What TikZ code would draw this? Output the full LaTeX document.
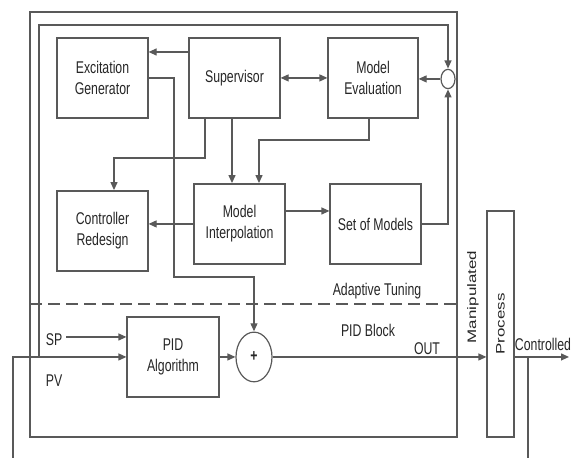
\documentclass[tikz,border=0pt]{standalone}
\usepackage{fontspec}
\setmainfont{Liberation Sans}
\usetikzlibrary{arrows.meta,positioning}

\begin{document}
\begin{tikzpicture}[
    x=1pt, y=0.7246pt, yscale=1.38,
    color=black!65, line width=1.2pt,
    every node/.style={transform shape, text=black!85, font=\fontsize{12.3}{15.2}\selectfont},
    box/.style={rectangle, draw, minimum width=91pt, minimum height=58pt, align=center},
    junction/.style={circle, draw, inner sep=0pt},
    arrow/.style={-{Triangle[length=8pt,width=7pt]}},
    dblarrow/.style={{Triangle[length=8pt,width=7pt]}-{Triangle[length=8pt,width=7pt]}}
]
    \useasboundingbox (0,0) rectangle (572,458);

    % Adaptive tuning side
    \node[box] (exc) at (102.5,380) {Excitation\\Generator};
    \node[box] (sup) at (234.5,380) {Supervisor};
    \node[box, minimum width=90pt] (eval) at (373,380) {Model\\Evaluation};
    \node[box] (ctrl) at (102.5,227) {Controller\\Redesign};
    \node[box] (interp) at (239.5,234) {Model\\Interpolation};
    \node[box] (sets) at (375.5,234) {Set of Models};
    \node[junction, minimum size=14pt] (circ) at (448,379) {};
    \node (adapt) at (377,167) {Adaptive Tuning};

    % PID side
    \node[box, minimum width=92pt] (pid) at (173,101) {PID\\Algorithm};
    \node[junction, minimum size=36pt] (sum) at (254,101) {\textbf{+}};
    \node (sp) at (54,118) {SP};
    \node (pv) at (54,77) {PV};
    \node (pidblk) at (368,128) {PID Block};
    \node (outlbl) at (427,109) {OUT};

    % Process
    \node[rectangle, draw, minimum width=27pt, minimum height=163.8pt] (proc) at (500.5,134) {\rotatebox{90}{Process}};
    \node[rotate=90] (manip) at (473,161) {Manipulated};
    \node (ctrlbl) at (543,114) {Controlled};

    \coordinate (pvin) at (13,0);
    \coordinate (tap) at (39,101);
    \coordinate (yout) at (569,101);
    \coordinate (ymeas) at (528,0);

    % Frames
    \draw (30,21) rectangle (457,446);
    \draw[dash pattern=on 12pt off 6pt] (30,154) -- (457,154);

    % Adaptive tuning arrows
    \draw[arrow] (sup.west |- 0,406) -- (exc.east |- 0,406);
    \draw[dblarrow] (sup.east) -- (eval.west);
    \draw[arrow] (circ.west) -- (eval.east |- circ.west);
    \draw[arrow] (sup.south -| 205,0) |- (114,300) -- (ctrl.north -| 114,0);
    \draw[arrow] (sup.south -| 232,0) -- (interp.north -| 232,0);
    \draw[arrow] (eval.south -| 369,0) |- (259,318) -- (interp.north -| 259,0);
    \draw[arrow] (interp.west) -- (ctrl.east |- interp.west);
    \draw[arrow] (interp.east |- 0,247) -- (sets.west |- 0,247);
    \draw[arrow] (sets.east) -| (circ.south);
    \draw[arrow] (exc.east) -| (174,181) -| (sum.north);

    % Loop
    \draw[arrow] (pvin) |- (pid.west);
    \draw[arrow] (tap) |- (circ.north |- 0,433) -- (circ.north);
    \draw[arrow] (sp.east |- 0,121) -- (pid.west |- 0,121);
    \draw[arrow] (pid.east) -- (sum.west);
    \draw[arrow] (sum.east) -- (proc.west |- sum.east);
    \draw[arrow] (proc.east |- sum.east) -- (yout);
    \draw (ymeas) -- (ymeas |- yout);
\end{tikzpicture}
\end{document}
